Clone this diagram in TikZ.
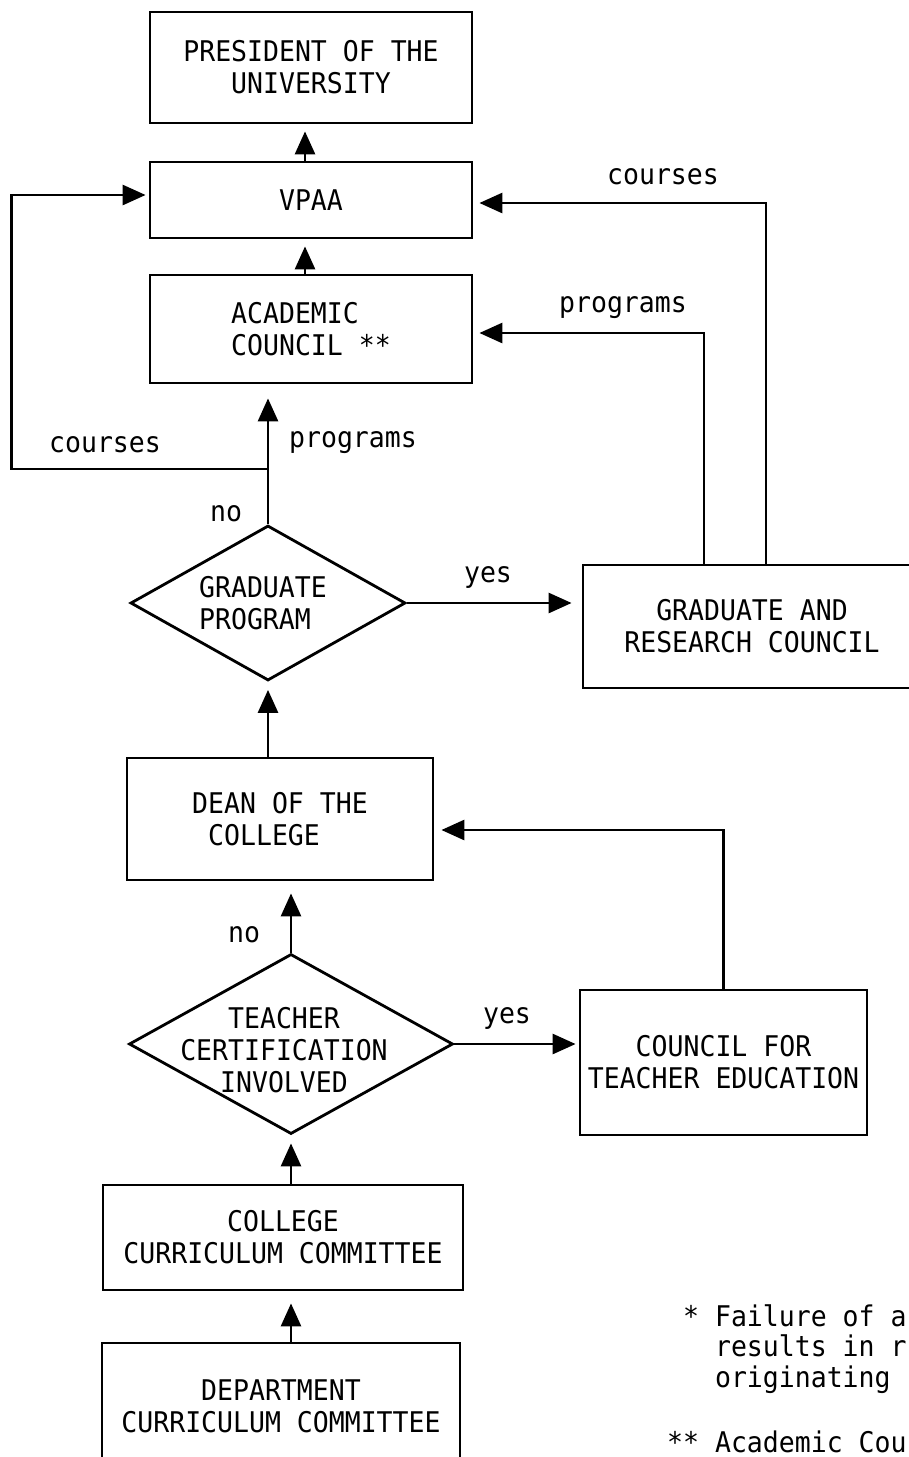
\documentclass[tikz,border=0pt]{standalone}
\usepackage{fontspec}
\newfontfamily\flowmono[FakeStretch=0.93]{DejaVu Sans Mono}
\usetikzlibrary{arrows.meta,shapes.geometric}

\begin{document}
\begin{tikzpicture}[x=1pt, y=-1pt,
  every node/.style={font=\flowmono\fontsize{28.5}{32}\selectfont},
  unit/.style={draw, line width=2.8pt, inner sep=0pt, align=center},
  decide/.style={draw, diamond, line width=2.8pt, inner sep=0pt},
  arrow/.style={-{Triangle[length=23pt, width=20pt]}, line width=2.8pt, shorten >=7pt},
  lbl/.style={inner sep=0pt}
]
\useasboundingbox (0,0) rectangle (909,1457);
\clip (0,0) rectangle (909,1457);
\fill[white] (0,0) rectangle (909,1457);

% boxes and decisions, top to bottom
\node[unit, minimum width=322pt, minimum height=111pt] (pres) at (311,67.5) {PRESIDENT OF THE\\UNIVERSITY};
\node[unit, minimum width=322pt, minimum height=76pt] (vpaa) at (311,200) {VPAA};
\node[unit, minimum width=322pt, minimum height=108pt, align=left] (acad) at (311,329) {ACADEMIC\\COUNCIL **};
\node[decide, minimum width=275pt, minimum height=155pt] (gp) at (268,603) {};
\node[lbl, align=left] (gptext) at (263,603) {GRADUATE\\PROGRAM};
\node[unit, minimum width=338pt, minimum height=123pt] (grc) at (752,626.5) {GRADUATE AND\\RESEARCH COUNCIL};
\node[unit, minimum width=306pt, minimum height=122pt, align=left] (dean) at (280,819) {DEAN OF THE\\\phantom{D}COLLEGE};
\node[decide, minimum width=324pt, minimum height=180pt] (tc) at (291,1044) {};
\node[lbl, align=center] (tctext) at (284,1050) {TEACHER\\CERTIFICATION\\INVOLVED};
\node[unit, minimum width=287pt, minimum height=145pt] (cte) at (723.5,1062.5) {COUNCIL FOR\\TEACHER EDUCATION};
\node[unit, minimum width=360pt, minimum height=105pt] (ccc) at (283,1237.5) {COLLEGE\\CURRICULUM COMMITTEE};
\node[unit, minimum width=358pt, minimum height=127pt] (dcc) at (281,1406.5) {DEPARTMENT\\CURRICULUM COMMITTEE};

% connectors
\coordinate (jn) at (268,469);
\draw[arrow] ([xshift=-6pt]vpaa.north) -- ([xshift=-6pt]pres.south);
\draw[arrow] ([xshift=-6pt]acad.north) -- ([xshift=-6pt]vpaa.south);
\draw[arrow, shorten >=14pt] (gp.north) -- (gp.north |- acad.south);
\draw[arrow, shorten >=3pt] (jn) -| ([xshift=-137pt, yshift=5pt]vpaa.west) -- ([yshift=5pt]vpaa.west);
\draw[arrow, shorten >=6pt] ([xshift=-48pt]grc.north) |- ([yshift=-4pt]acad.east);
\draw[arrow, shorten >=6pt] ([xshift=14pt]grc.north) |- ([yshift=-3pt]vpaa.east);
\draw[arrow, shorten >=10pt] (gp.east) -- (gp.east -| grc.west);
\draw[arrow, shorten >=8pt] (gp.south |- dean.north) -- (gp.south);
\draw[arrow, shorten >=12pt] (tc.north) -- (tc.north |- dean.south);
\draw[arrow, shorten >=3pt] (tc.east) -- (tc.east -| cte.west);
\draw[arrow] (cte.north) |- ([yshift=-11pt]dean.east);
\draw[arrow, shorten >=8pt] (tc.south |- ccc.north) -- (tc.south);
\draw[arrow, shorten >=12pt] (dcc.north -| tc.south) -- (ccc.south -| tc.south);

% labels
\node[lbl] (crsl) at (105,445) {courses};
\node[lbl] (prgl) at (353,443) {programs};
\node[lbl] (nogp) at (226,514) {no};
\node[lbl] (yesgp) at (488,577) {yes};
\node[lbl] (crsr) at (663,177) {courses};
\node[lbl] (prgr) at (623,308) {programs};
\node[lbl] (notc) at (244,935) {no};
\node[lbl] (yestc) at (507,1018) {yes};

% footnotes
\node[lbl, anchor=west, align=left, font=\flowmono\fontsize{28.5}{30.5}\selectfont] (fn1) at (667,1349)
  {\phantom{*}* Failure of a\\\phantom{***}results in r\\\phantom{***}originating};
\node[lbl, anchor=west] (fn2) at (667,1442) {** Academic Cou};
\end{tikzpicture}
\end{document}
